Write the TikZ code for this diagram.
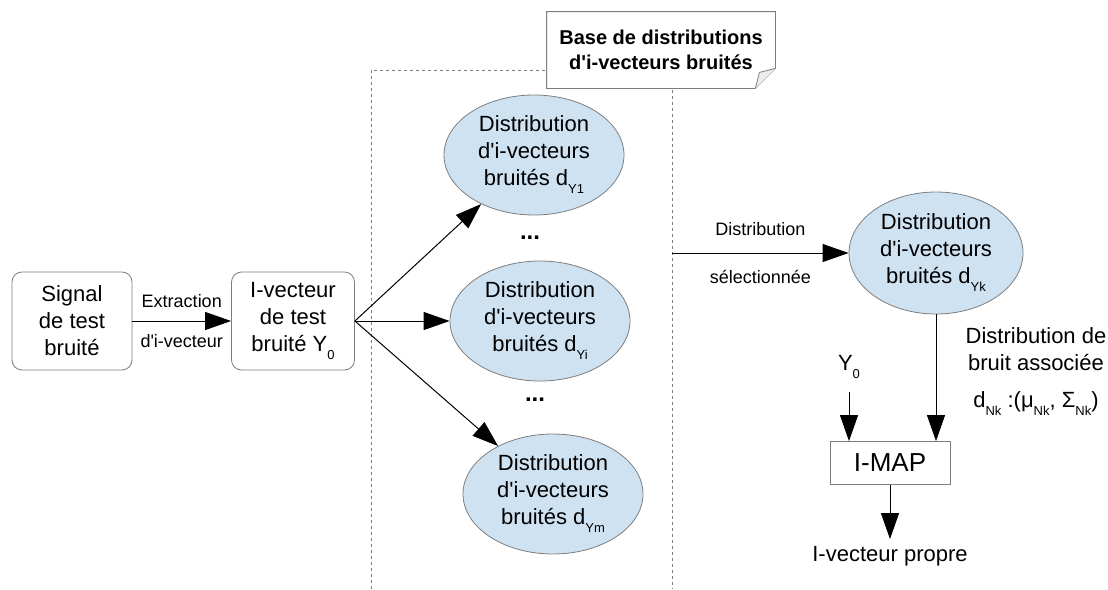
\documentclass[tikz,border=0pt]{standalone}
\usepackage{fontspec}
\setmainfont{Liberation Sans}
\usetikzlibrary{arrows.meta,positioning,shapes.geometric}
\definecolor{ec}{RGB}{207,226,242}
\definecolor{bc}{RGB}{125,125,125}
\newcommand\dsub[1]{\raisebox{-4pt}{\fontsize{6.5}{7}\selectfont #1}}
\newcommand\ap{\textquotesingle}
\tikzset{rb/.style={draw=bc,rounded corners=5pt,minimum width=60pt,minimum height=49pt,align=center,inner sep=2pt},
 el/.style={ellipse,draw=bc,fill=ec,minimum width=90pt,minimum height=60pt,inner sep=0pt,align=center},
 arr/.style={-{Triangle[length=13pt,width=9pt]},line width=.5pt},
 lab/.style={font=\fontsize{9}{11}\selectfont},
 every node/.style={font=\fontsize{11}{13.5}\selectfont}}
\begin{document}
\begin{tikzpicture}[x=.5pt,y=-.5pt]
\useasboundingbox (0,0) rectangle (1108,589);
% base de distributions
\draw[bc,dash pattern=on 1.5pt off 1.5pt,line width=.4pt] (371,589)--(371,70)--(672,70)--(672,589);
\node[fill=white,align=center,minimum width=114pt,minimum height=38pt,font=\bfseries\fontsize{10}{12.5}\selectfont] (base) at (661,50) {Base de distributions\\d\ap i-vecteurs bruités};
\draw[bc] (base.north west)--(base.north east)--([yshift=10pt]base.south east)--([xshift=-10pt]base.south east)--(base.south west)--cycle;
\draw[bc,fill=gray!15] ([xshift=-10pt]base.south east)--([xshift=-8pt,yshift=8pt]base.south east)--([yshift=10pt]base.south east);
% extraction
\node[rb] (sig) at (72,321) {Signal\\de test\\bruité};
\node[rb,minimum width=61.5pt] (iv) at (293,321) {I-vecteur\\de test\\bruité Y\dsub{0}};
\draw[arr] (sig)--node[lab,above=3pt]{Extraction} node[lab,below=3pt]{d\ap i-vecteur} (iv);
% distributions
\node[el] (d1) at (534,155) {Distribution\\d\ap i-vecteurs\\bruités d\dsub{Y1}};
\node[el] (di) at (540,321) {Distribution\\d\ap i-vecteurs\\bruités d\dsub{Yi}};
\node[el] (dm) at (553,494) {Distribution\\d\ap i-vecteurs\\bruités d\dsub{Ym}};
\node[font=\bfseries\fontsize{12}{14}\selectfont] (dots1) at (530,238) {...};
\node[font=\bfseries\fontsize{12}{14}\selectfont] (dots2) at (535,400) {...};
\draw[arr] (iv.east)--(d1);
\draw[arr] (iv.east)--(di);
\draw[arr] (iv.east)--(dm);
% selection
\node[el,minimum width=87pt,minimum height=61pt] (dk) at (936,253) {Distribution\\d\ap i-vecteurs\\bruités d\dsub{Yk}};
\coordinate (sel) at (672,253);
\draw[arr] (sel)--node[lab,above=5pt]{Distribution} node[lab,below=5pt]{sélectionnée} (dk.west);
% I-MAP
\node[draw=bc,minimum width=60pt,minimum height=21.5pt,font=\fontsize{13}{15}\selectfont] (imap) at (890,463) {I-MAP};
\draw[arr] (dk.south)--(dk.south |- imap.north);
\node (y0) at (849,367) {Y\dsub{0}};
\coordinate (y0a) at (849,392);
\draw[arr] (y0a)--(y0a |- imap.north);
\node (prop) at (890,556) {I-vecteur propre};
\draw[arr] (imap)--(prop);
\node[align=center] (assoc) at (1036,372) {Distribution de\\bruit associée\\[5pt]d\dsub{Nk} :(μ\dsub{Nk}, Σ\dsub{Nk})};
\end{tikzpicture}
\end{document}
